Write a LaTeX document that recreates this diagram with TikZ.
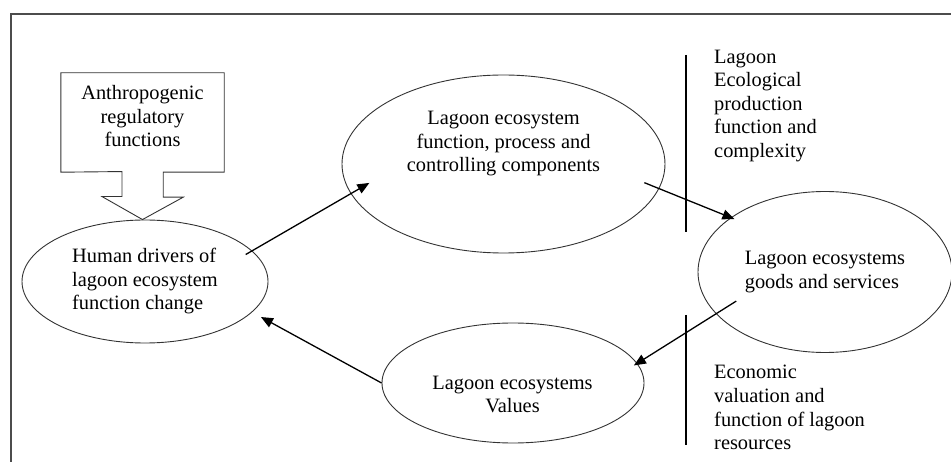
\documentclass[tikz,border=0pt]{standalone}
\usepackage{fontspec}
\setmainfont{Liberation Serif}
\usetikzlibrary{arrows.meta,shapes.geometric,calc}
\tikzset{
  txt/.style={font=\fontsize{20.4}{23.5}\selectfont,inner sep=0pt},
  oval/.style={ellipse,draw=black!80,line width=0.9pt,inner sep=0pt},
  outline/.style={draw=black!80,line width=0.9pt},
  side/.style={txt,align=left,anchor=base west},
  flow/.style={-{Triangle[length=12pt,width=10pt]},line width=1.3pt},
  divider/.style={line width=1.1pt},
  frameline/.style={line width=1.4pt,draw=black!70}
}

\begin{document}
\begin{tikzpicture}[x=1pt,y=-1pt]
  \useasboundingbox (0,0) rectangle (951,462);
  % frame
  \draw[frameline] (11,462) -- (11,14) -- (951,14);
  % regulatory box and block arrow
  \node[txt,align=center,text depth=12.5pt,minimum width=163pt,minimum height=99pt] (anth) at (142.5,122.5) {Anthropogenic\\regulatory\\functions};
  % ellipses
  \node[oval,txt,align=left,minimum width=246pt,minimum height=123pt] (hum) at (145,281.5) {Human drivers of\\lagoon ecosystem\\function change};
  \node[oval,minimum width=323pt,minimum height=178pt] (fun) at (503.5,164) {};
  \node[txt,align=center,anchor=base] (funtxt) at (503.5,172) {Lagoon ecosystem\\function, process and\\controlling components};
  \node[oval,txt,align=left,minimum width=254pt,minimum height=161pt] (goods) at (825,272) {Lagoon ecosystems\\goods and services};
  \node[oval,minimum width=262pt,minimum height=120pt] (val) at (513,383) {};
  \node[txt,align=center,anchor=base] (valtxt) at (512.5,412.7) {Lagoon ecosystems\\Values};
  \draw[outline] (anth.south west) -- (anth.north west) -- (anth.north east) -- (anth.south east)
    -- ++(-61,0) -- ++(0,25) -- ++(20,0) -- (anth.south |- hum.north)
    -- ++(-40.5,-23) -- ++(20,0) -- ++(0,-25) -- cycle;
  % side notes
  \node[side] (ecolab) at (714,157.5) {Lagoon\\Ecological\\production\\function and\\complexity};
  \node[side] (econlab) at (714,449.5) {Economic\\valuation and\\function of lagoon\\resources};
  \draw[divider] (686,55) -- (686,232);
  \draw[divider] (686,315) -- (686,445);
  % cycle arrows
  \draw[flow,shorten <=-7.5pt,shorten >=-21.5pt] (hum.16) -- (fun.191);
  \draw[flow,shorten <=-16pt,shorten >=-4pt] (fun.351) -- (goods.150);
  \draw[flow,shorten <=-24pt,shorten >=-4pt] (goods.201) -- (val.9);
  \draw[flow,shorten >=10pt] (val.west) -- (hum.344);
\end{tikzpicture}
\end{document}
